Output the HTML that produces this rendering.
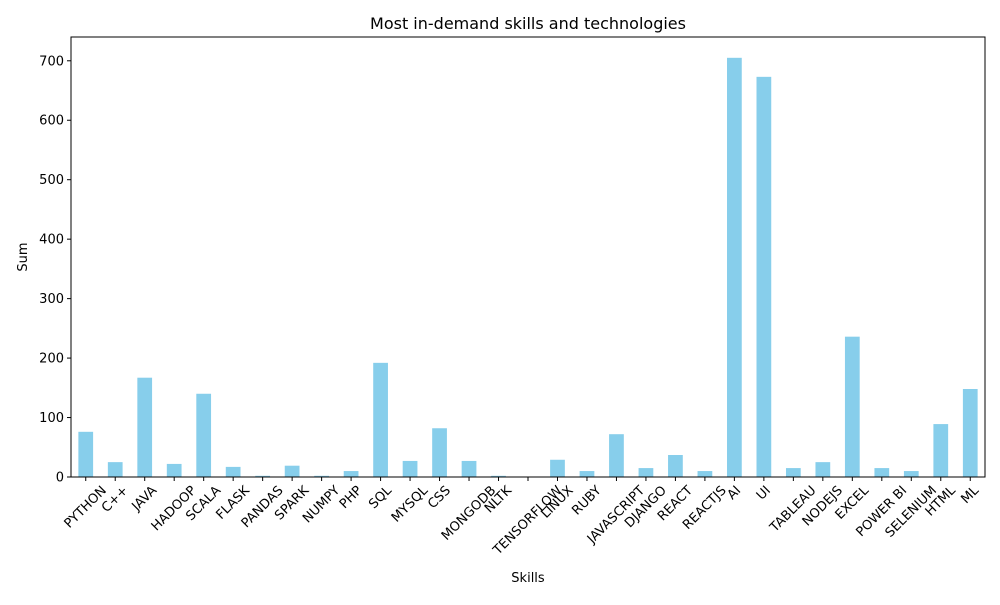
<!DOCTYPE html>
<html><head><meta charset="utf-8"><style>
body{margin:0;background:#fff;}
svg{font-family:"DejaVu Sans","Liberation Sans",sans-serif;}
</style></head><body>
<svg id="chart" width="1000" height="600" xmlns="http://www.w3.org/2000/svg">
<rect width="1000" height="600" fill="#fff"/>
<text x="528" y="29" text-anchor="middle" font-size="16">Most in-demand skills and technologies</text>
<g id="marks"></g>
<rect x="71" y="37" width="914" height="440" fill="none" stroke="#000" stroke-width="1"/>
<text x="528" y="582" text-anchor="middle" font-size="13">Skills</text>
<text x="27" y="257" text-anchor="middle" font-size="13" transform="rotate(-90 27 257)">Sum</text>
</svg>
<script>
const categories=["PYTHON","C++","JAVA","HADOOP","SCALA","FLASK","PANDAS","SPARK","NUMPY","PHP","SQL","MYSQL","CSS","MONGODB","NLTK","TENSORFLOW","LINUX","RUBY","JAVASCRIPT","DJANGO","REACT","REACTJS","AI","UI","TABLEAU","NODEJS","EXCEL","POWER BI","SELENIUM","HTML","ML"];
const values=[76,25,167,22,140,17,2,19,2,10,192,27,82,27,2,0,29,10,72,15,37,10,705,673,15,25,236,15,10,89,148];
const yTicks=[0,100,200,300,400,500,600,700];
const NS="http://www.w3.org/2000/svg";
const L=71,R=985,T=37,B=477,yMax=740;
const step=(R-L)/categories.length;
const x=i=>L+step*(i+0.5);
const y=v=>B-(v/yMax)*(B-T);
const g=document.getElementById('marks');
function mk(tag,a){const e=document.createElementNS(NS,tag);for(const k in a)e.setAttribute(k,a[k]);g.appendChild(e);return e;}
categories.forEach((c,i)=>{
 const r=mk('rect',{x:x(i)-step*0.25,y:y(values[i]),width:step*0.5,height:B-y(values[i]),fill:'#87ceeb'});
 
 
 const t=mk('line',{x1:x(i),x2:x(i),y1:B,y2:B+4,stroke:'#000'});
 
 
 const lb=mk('text',{x:0,y:0,'text-anchor':'middle','dominant-baseline':'central','font-size':13});
 lb.textContent=c;
 
 
 const w=lb.getComputedTextLength();
 const cy=B+7+(w+13)*0.7071/2;
 lb.setAttribute('transform',`translate(${x(i)} ${cy}) rotate(-45)`);
});
yTicks.forEach(v=>{
 const t=mk('line',{x1:L-4,x2:L,y1:y(v),y2:y(v),stroke:'#000'});
 
 
 const lb=mk('text',{x:L-7,y:y(v)+4.5,'text-anchor':'end','font-size':13});
 lb.textContent=v;
 
 
});
</script>
</body></html>
